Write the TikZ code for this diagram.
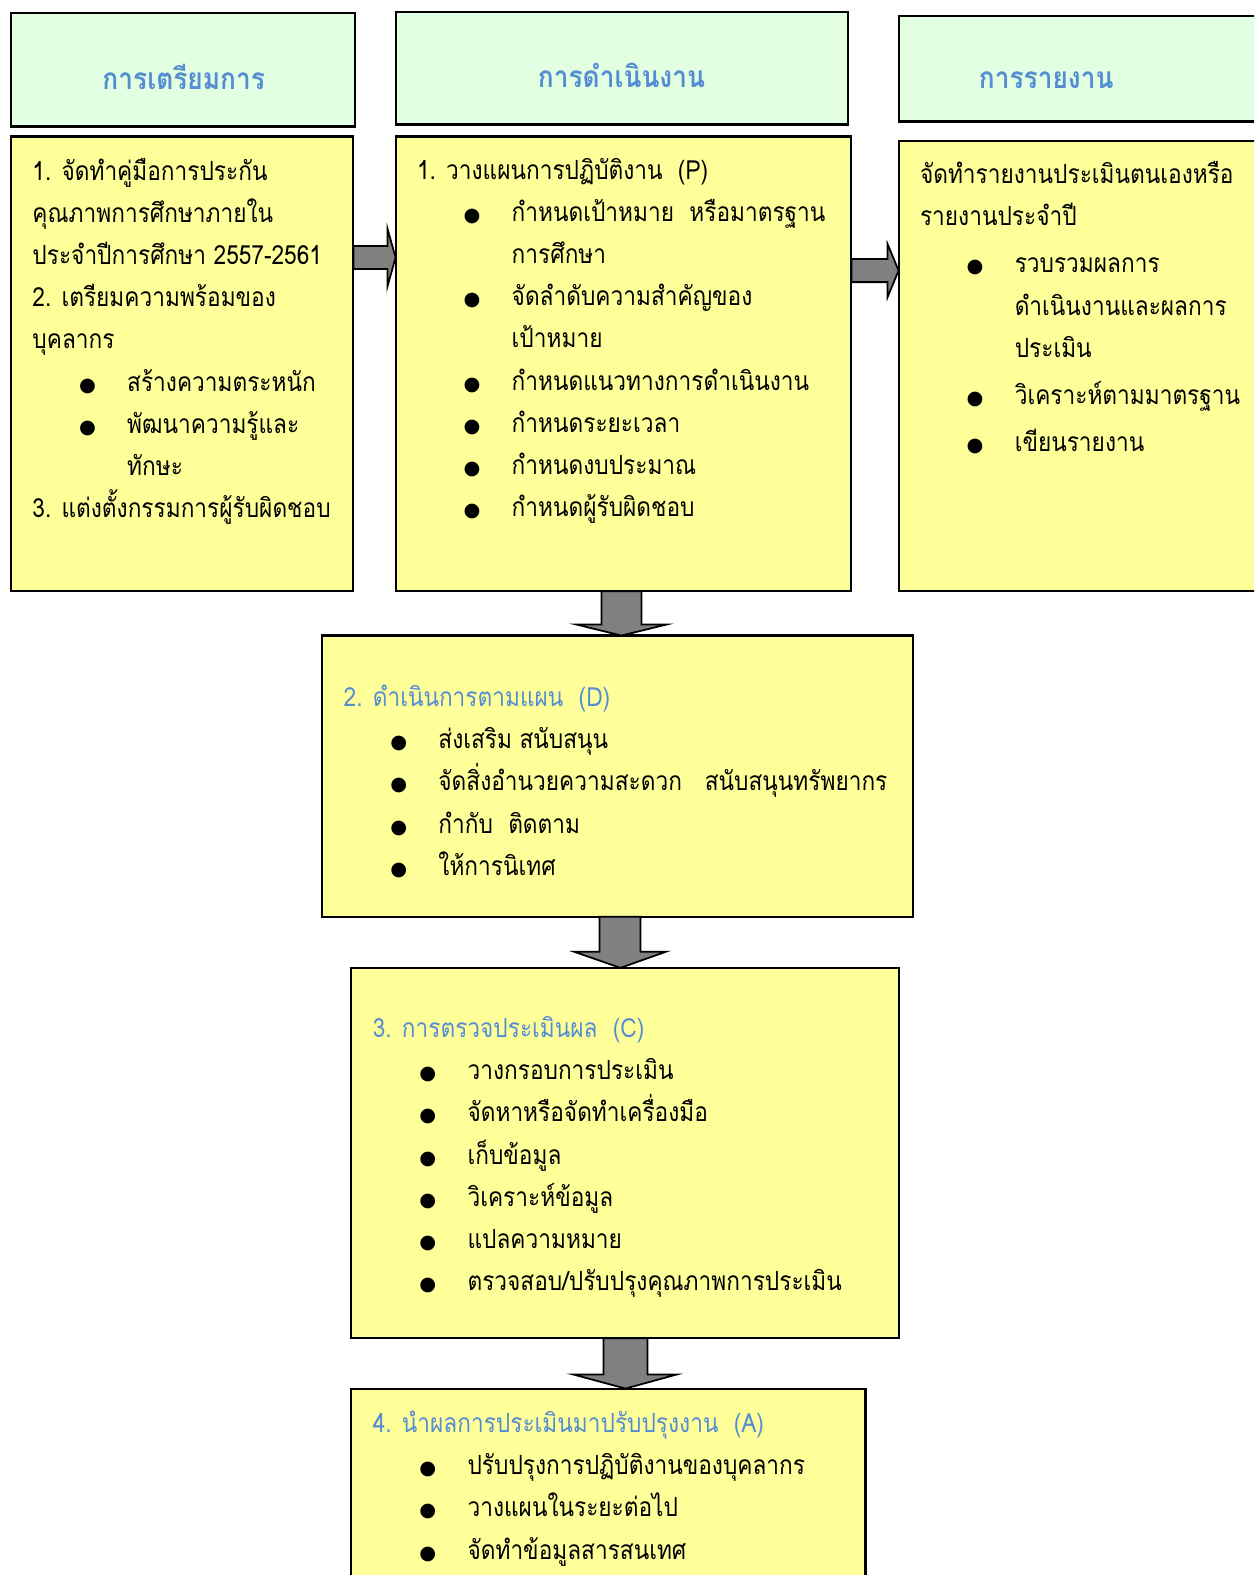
\documentclass[tikz,border=0pt]{standalone}
\usepackage{fontspec}
\newfontfamily\thaifont[Script=Thai,FakeStretch=0.86]{Loma}
\newfontfamily\thaihead[Script=Thai,FakeStretch=0.88]{Loma}
\newfontfamily\symfont{DejaVu Sans}
\definecolor{hdrgreen}{RGB}{226,255,226}
\definecolor{boxyellow}{RGB}{255,255,153}
\definecolor{hdrblue}{RGB}{84,141,212}
\definecolor{arrowgray}{RGB}{128,128,128}
\newcommand{\itm}{\hspace*{26.5pt}\makebox[27.4pt][l]{{\symfont\fontsize{11}{11}\selectfont ●}}}
\newcommand{\cnt}{\hspace*{53.9pt}}
\begin{document}
\begin{tikzpicture}[x=0.02008cm,y=-0.02008cm,
    hdr/.style={draw,line width=1.2pt,fill=hdrgreen,inner sep=0pt,outer sep=0pt},
    box/.style={draw,line width=1.2pt,fill=boxyellow,inner sep=0pt,outer sep=0pt},
    wh/.style 2 args={minimum width=#1*0.02008cm,minimum height=#2*0.02008cm},
    hdrtext/.style={inner sep=0pt,text=hdrblue,font=\thaihead\bfseries\fontsize{17}{20}\selectfont},
    body/.style={anchor=north west,inner sep=0pt,align=left,execute at begin node=\strut,
        font=\thaifont\fontsize{15}{24}\selectfont},
    blk/.style={draw,line width=1pt,fill=arrowgray,line join=miter}]
    \useasboundingbox (0,0) rectangle (1249,1568.7);
    \clip (0,0) rectangle (1249,1568.7);

        \node[hdr, wh={343}{113}] (h1) at (182.5,69.5) {};
        \node[hdr, wh={451}{112}] (h2) at (619.5,68) {};
        \node[hdr, wh={395}{105}] (h3) at (1092.5,68.5) {};

        \node[hdrtext] (t1) at (183,77) {การเตรียมการ};
        \node[hdrtext] (t2) at (619,75) {การดำเนินงาน};
        \node[hdrtext] (t3) at (1042,80) {การรายงาน};

        \node[box, wh={341}{453}] (b1) at (181.5,362.5) {};
        \node[box, wh={454}{453}] (b2) at (621,362.5) {};
        \node[box, wh={395}{449}] (b3) at (1092.5,364.5) {};
        \node[box, wh={588}{280}] (bD) at (615,773) {};
        \node[box, wh={545}{369}] (bC) at (622.5,1148.5) {};
        \node[box, wh={512}{237}] (bA) at (606,1501.5) {};

        \node[body] (b1text) at (32,157) {1. จัดทำคู่มือการประกัน\\คุณภาพการศึกษาภายใน\\ประจำปีการศึกษา 2557-2561\\2. เตรียมความพร้อมของ\\บุคลากร\\\itm สร้างความตระหนัก\\\itm พัฒนาความรู้และ\\\cnt ทักษะ\\3. แต่งตั้งกรรมการผู้รับผิดชอบ};
        \node[body] (b2text) at (415,157) {1. วางแผนการปฏิบัติงาน~~(P)\\\itm กำหนดเป้าหมาย~~หรือมาตรฐาน\\\cnt การศึกษา\\\itm จัดลำดับความสำคัญของ\\\cnt เป้าหมาย\\\itm กำหนดแนวทางการดำเนินงาน\\\itm กำหนดระยะเวลา\\\itm กำหนดงบประมาณ\\\itm กำหนดผู้รับผิดชอบ};
        \node[body] (b3text) at (916,160.5) {จัดทำรายงานประเมินตนเองหรือ\\รายงานประจำปี\\[2.8pt]\itm รวบรวมผลการ\\\cnt ดำเนินงานและผลการ\\\cnt ประเมิน\\[2.8pt]\itm วิเคราะห์ตามมาตรฐาน\\[2.8pt]\itm เขียนรายงาน};
        \node[body] (bDtext) at (342,682) {{\color{hdrblue}2. ดำเนินการตามแผน~~(D)}\\\itm ส่งเสริม สนับสนุน\\\itm จัดสิ่งอำนวยความสะดวก~~~สนับสนุนทรัพยากร\\\itm กำกับ~~ติดตาม\\\itm ให้การนิเทศ};
        \node[body] (bCtext) at (371,1012) {{\color{hdrblue}3. การตรวจประเมินผล~~(C)}\\\itm วางกรอบการประเมิน\\\itm จัดหาหรือจัดทำเครื่องมือ\\\itm เก็บข้อมูล\\\itm วิเคราะห์ข้อมูล\\\itm แปลความหมาย\\\itm ตรวจสอบ/ปรับปรุงคุณภาพการประเมิน};
        \node[body] (bAtext) at (371,1405) {{\color{hdrblue}4. นำผลการประเมินมาปรับปรุงงาน~~(A)}\\\itm ปรับปรุงการปฏิบัติงานของบุคลากร\\\itm วางแผนในระยะต่อไป\\\itm จัดทำข้อมูลสารสนเทศ};

        \path[blk] (b1.east |- 0,245) -- (386,245) -- (386,228) -- (b2.west |- 0,256.5) -- (386,285) -- (386,268) -- (b1.east |- 0,268) -- cycle;
        \path[blk] (b2.east |- 0,258) -- (884,258) -- (884,243) -- (b3.west |- 0,269.5) -- (884,296) -- (884,281) -- (b2.east |- 0,281) -- cycle;

        \path[blk] (599,0 |- b2.south) -- (599,622) -- (574,622) -- (619,0 |- bD.north) -- (664,622) -- (639,622) -- (639,0 |- b2.south) -- cycle;
        \path[blk] (597,0 |- bD.south) -- (597,948) -- (572,948) -- (618,0 |- bC.north) -- (663,948) -- (638,948) -- (638,0 |- bD.south) -- cycle;
        \path[blk] (601,0 |- bC.south) -- (601,1369) -- (571,1369) -- (623,0 |- bA.north) -- (674,1369) -- (645,1369) -- (645,0 |- bC.south) -- cycle;

    \end{tikzpicture}
\end{document}
